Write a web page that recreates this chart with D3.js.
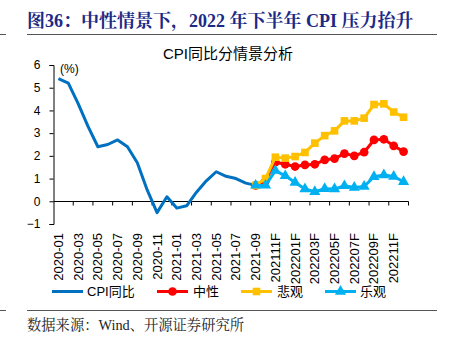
<!DOCTYPE html>
<html>
<head>
<meta charset="utf-8">
<script src="https://cdn.jsdelivr.net/npm/d3@7"></script>
<style>
  body { margin: 0; background: #fff; }
  svg { display: block; }
</style>
</head>
<body>
<div id="chart"></div>
<script>
// months 2020-01 .. 2021-10 are plain, from 2021-11 on they are forecasts ("F")
const months = [];
for (let yr = 2020; yr <= 2022; yr++) {
  for (let m = 1; m <= 12; m++) {
    const mm = String(m).padStart(2, '0');
    const isF = yr > 2021 || (yr === 2021 && m >= 11);
    months.push(isF ? `${yr}${mm}F` : `${yr}-${mm}`);
  }
}

// actual CPI yoy, 2020-01 .. 2021-09
const cpiActual = [5.4, 5.2, 4.3, 3.3, 2.4, 2.5, 2.7, 2.4, 1.7, 0.5, -0.5, 0.2,
  -0.3, -0.2, 0.4, 0.9, 1.3, 1.1, 1.0, 0.8, 0.7];

// scenarios, 2021-09 .. 2022-12
const scenarioStart = 20;
const neutral = [0.7, 0.9, 1.72, 1.63, 1.53, 1.6, 1.63, 1.82, 1.88, 2.1, 2.0, 2.16, 2.7, 2.73, 2.44, 2.19];
const pessimistic = [0.7, 1.0, 1.94, 1.9, 1.97, 2.15, 2.56, 2.89, 3.1, 3.54, 3.54, 3.66, 4.26, 4.29, 3.93, 3.7];
const optimistic = [0.7, 0.7, 1.35, 1.12, 0.83, 0.54, 0.42, 0.55, 0.54, 0.68, 0.61, 0.65, 1.08, 1.16, 1.09, 0.86];

const yTicks = [-1, 0, 1, 2, 3, 4, 5, 6];

const W = 452, H = 348;
const plotL = 53.5, plotR = 408.5, plotT = 65, plotB = 224;

const svg = d3.select('#chart').append('svg')
  .attr('width', W).attr('height', H);

const sans = 'Arial, "Liberation Sans", "Noto Sans CJK SC", sans-serif';
const serif = '"Liberation Serif", "Noto Serif CJK SC", "Noto Sans CJK SC", serif';

// page header / footer rules
svg.append('text')
  .attr('x', 27).attr('y', 27)
  .attr('font-family', serif).attr('font-weight', 'bold')
  .attr('font-size', 18).attr('fill', '#1b2a85')
  .text('图36：中性情景下，2022 年下半年 CPI 压力抬升');

const rules = [34.5, 310.5];
rules.forEach(ry => {
  svg.append('line').attr('x1', 27).attr('x2', 437).attr('y1', ry).attr('y2', ry)
    .attr('stroke', '#555').attr('stroke-width', 1);
  svg.append('line').attr('x1', 0).attr('x2', 6).attr('y1', ry).attr('y2', ry)
    .attr('stroke', '#555').attr('stroke-width', 1);
});

svg.append('text')
  .attr('x', 27).attr('y', 330)
  .attr('font-family', serif).attr('font-size', 14.3).attr('fill', '#222')
  .text('数据来源：Wind、开源证券研究所');

// chart title
svg.append('text')
  .attr('x', 228).attr('y', 59)
  .attr('text-anchor', 'middle')
  .attr('font-family', sans).attr('font-size', 15).attr('fill', '#000')
  .text('CPI同比分情景分析');

const x = d3.scaleBand().domain(months).range([plotL, plotR]).padding(0);
const y = d3.scaleLinear().domain([-1, 6]).range([plotB, plotT]);
const cx = i => x(months[i]) + x.bandwidth() / 2;

// y axis
const yAxis = svg.append('g')
  .attr('transform', `translate(${plotL},0)`)
  .call(d3.axisLeft(y).tickValues(yTicks).tickSize(4).tickPadding(9).tickFormat(d3.format('d')));
yAxis.select('.domain').attr('stroke', '#000');
yAxis.selectAll('.tick line').attr('stroke', '#000');
yAxis.selectAll('text').attr('font-family', sans).attr('font-size', 12).attr('fill', '#000');

svg.append('text')
  .attr('x', 60).attr('y', 73)
  .attr('font-family', sans).attr('font-size', 12).attr('fill', '#000')
  .text('(%)');

// x axis at zero
const y0 = Math.round(y(0)) + 0.5;
svg.append('line').attr('x1', plotL).attr('x2', plotR).attr('y1', y0).attr('y2', y0)
  .attr('stroke', '#000');
const tickIdx = d3.range(2, months.length + 1, 2);
svg.append('g').selectAll('line').data(tickIdx).join('line')
  .attr('x1', i => i < months.length ? x(months[i]) : plotR)
  .attr('x2', i => i < months.length ? x(months[i]) : plotR)
  .attr('y1', y0).attr('y2', y0 + 4)
  .attr('stroke', '#000');

// category labels every second month
svg.append('g').selectAll('text')
  .data(months.filter((m, i) => i % 2 === 0))
  .join('text')
  .attr('transform', d => `translate(${x(d) + x.bandwidth() / 2 + 4.5},233) rotate(-90)`)
  .attr('text-anchor', 'end')
  .attr('font-family', sans).attr('font-size', 13).attr('fill', '#000')
  .text(d => d);

// lines
const line = d3.line().x(d => cx(d.i)).y(d => y(d.v));
const toPts = (arr, start) => arr.map((v, k) => ({ i: start + k, v }));

const series = [
  { name: 'CPI同比', color: '#0070c0', pts: toPts(cpiActual, 0), marker: null },
  { name: '中性', color: '#ff0000', pts: toPts(neutral, scenarioStart), marker: 'circle' },
  { name: '悲观', color: '#ffc000', pts: toPts(pessimistic, scenarioStart), marker: 'square' },
  { name: '乐观', color: '#00b0f0', pts: toPts(optimistic, scenarioStart), marker: 'triangle' }
];

const symbols = {
  circle: d3.symbol(d3.symbolCircle, 60),
  square: d3.symbol(d3.symbolSquare, 58),
  triangle: d3.symbol(d3.symbolTriangle, 54)
};

series.forEach(s => {
  svg.append('path')
    .datum(s.pts)
    .attr('d', line)
    .attr('fill', 'none')
    .attr('stroke', s.color)
    .attr('stroke-width', 3)
    .attr('stroke-linejoin', 'round');
  if (s.marker) {
    svg.append('g').selectAll('path').data(s.pts).join('path')
      .attr('transform', d => `translate(${cx(d.i)},${y(d.v)})`)
      .attr('d', symbols[s.marker]())
      .attr('fill', s.color);
  }
});

// legend
const legendY = 291.5;
const legendItems = [
  { s: series[0], x1: 52, x2: 83, tx: 87 },
  { s: series[1], x1: 157, x2: 188, tx: 193 },
  { s: series[2], x1: 241, x2: 272, tx: 277 },
  { s: series[3], x1: 325, x2: 356, tx: 360 }
];
const lg = svg.append('g');
legendItems.forEach(it => {
  lg.append('line').attr('x1', it.x1).attr('x2', it.x2)
    .attr('y1', legendY).attr('y2', legendY)
    .attr('stroke', it.s.color).attr('stroke-width', 3);
  if (it.s.marker) {
    lg.append('path')
      .attr('transform', `translate(${(it.x1 + it.x2) / 2},${legendY})`)
      .attr('d', symbols[it.s.marker]())
      .attr('fill', it.s.color);
  }
  lg.append('text')
    .attr('x', it.tx).attr('y', legendY + 4.5)
    .attr('font-family', sans).attr('font-size', 13).attr('fill', '#000')
    .text(it.s.name);
});
</script>
</body>
</html>
